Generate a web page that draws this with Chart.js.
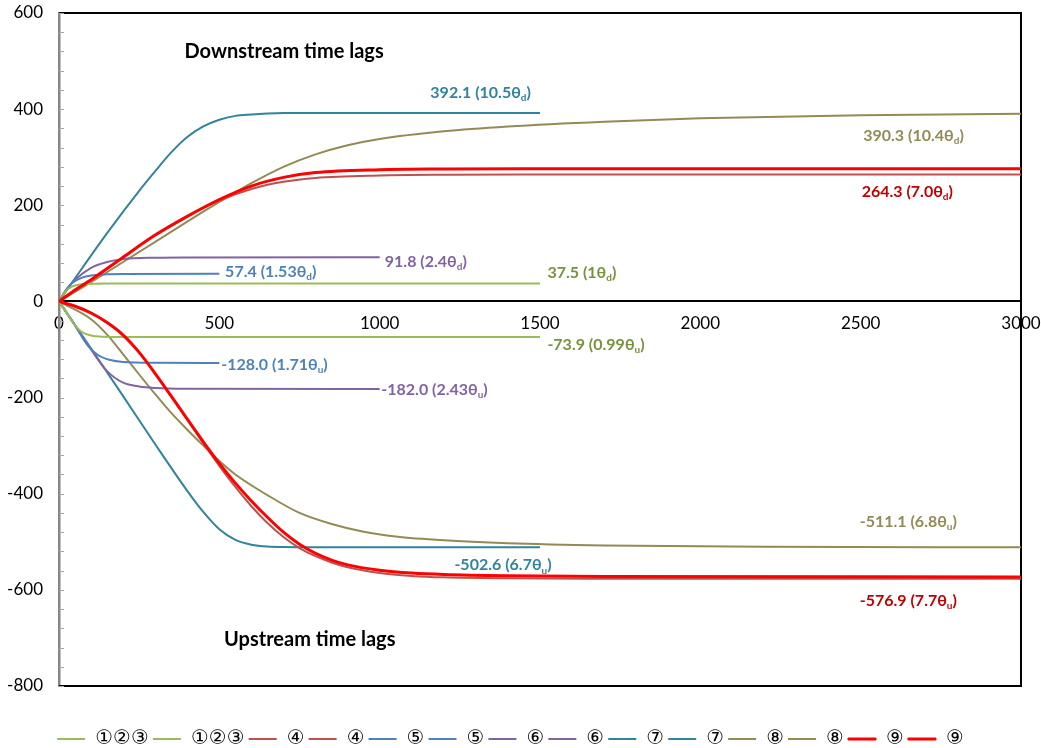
<!DOCTYPE html>
<html>
<head>
<meta charset="utf-8">
<script src="https://cdn.jsdelivr.net/npm/chart.js@4.4.0/dist/chart.umd.min.js"></script>
<style>
	html, body { margin: 0; padding: 0; background: #fff; }
	#box { width: 1041px; height: 748px; position: relative; }
</style>
</head>
<body>
<div id="box"><canvas id="chart-time-lags"></canvas></div>
<script>
// x = elapsed time, y = time lag; one downstream (+) and one upstream (-) curve per case
var xTicks = [0, 500, 1000, 1500, 2000, 2500, 3000];
var yTicks = [-800, -600, -400, -200, 0, 200, 400, 600];

var c123DownX = [0, 20, 40, 70, 100, 150, 1500];
var c123DownY = [0, 20, 31, 35.5, 37, 37.5, 37.5];
var c123UpX = [0, 30, 50, 70, 100, 140, 200, 1500];
var c123UpY = [0, -30, -50, -63, -71, -73.5, -73.9, -73.9];

var c4DownX = [0, 50, 100, 200, 300, 400, 500, 600, 700, 800, 1000, 1200, 1500, 3000];
var c4DownY = [0, 24, 45, 92, 138, 177, 210, 234, 249, 257, 262, 263.5, 264, 264.3];
var c4UpX = [0, 50, 100, 150, 200, 250, 300, 350, 400, 450, 500, 550, 600, 650, 700, 750, 800, 850, 900, 1000, 1100, 1200, 1400, 1700, 3000];
var c4UpY = [0, -10, -24, -44, -70, -106, -150, -197, -245, -295, -342, -386, -426, -461, -490, -513, -530, -543, -553, -565, -571, -574, -576, -576.7, -576.9];

var c5DownX = [0, 20, 40, 70, 100, 150, 200, 500];
var c5DownY = [0, 22, 38, 49, 54, 56.5, 57.3, 57.4];
var c5UpX = [0, 50, 90, 120, 160, 200, 300, 500];
var c5UpY = [0, -50, -92, -111, -122, -126, -127.8, -128];

var c6DownX = [0, 25, 50, 100, 150, 200, 300, 400, 1000];
var c6DownY = [0, 26, 45, 70, 82, 88, 91, 91.6, 91.8];
var c6UpX = [0, 50, 100, 150, 200, 250, 300, 400, 1000];
var c6UpY = [0, -50, -100, -145, -169, -177, -180, -181.5, -182];

var c7DownX = [0, 50, 150, 250, 300, 350, 400, 450, 500, 550, 600, 650, 700, 800, 1500];
var c7DownY = [0, 48, 142, 230, 271, 310, 342, 364, 378, 386, 389, 391, 392, 392.1, 392.1];
var c7UpX = [0, 100, 200, 300, 400, 450, 500, 550, 600, 650, 700, 800, 1500];
var c7UpY = [0, -98, -197, -297, -394, -438, -474, -496, -506, -510, -511, -511.5, -511.5];

var c8DownX = [0, 100, 200, 300, 400, 500, 600, 700, 800, 900, 1000, 1200, 1400, 1700, 2000, 2500, 3000];
var c8DownY = [0, 40, 82, 124, 166, 207, 246, 280, 306, 325, 338, 354, 364, 374, 381, 387.5, 390.3];
var c8UpX = [0, 100, 150, 200, 250, 300, 350, 400, 450, 500, 550, 650, 750, 850, 950, 1050, 1200, 1400, 1700, 2200, 3000];
var c8UpY = [0, -37, -69, -110, -152, -193, -232, -267, -300, -332, -360, -403, -440, -463, -479, -489, -497, -503, -507.5, -510.5, -511.5];

var c9DownX = [0, 50, 100, 200, 300, 400, 500, 600, 700, 800, 1000, 1200, 1500, 3000];
var c9DownY = [0, 24, 45, 92, 138, 177, 212, 240, 258, 268, 274, 275.5, 276, 276];
var c9UpX = [0, 50, 100, 150, 200, 250, 300, 350, 400, 450, 500, 550, 600, 650, 700, 750, 800, 850, 900, 1000, 1100, 1200, 1400, 1700, 3000];
var c9UpY = [0, -10, -24, -44, -70, -106, -150, -197, -245, -292, -337, -378, -415, -449, -480, -505, -524, -538, -548, -559, -565, -568, -570.6, -572, -573];

var notes = [
	{ text: "392.1 (10.5θ", sub: "d", x: 1158, y: 434, color: "#31849B" },
	{ text: "390.3 (10.4θ", sub: "d", x: 2508, y: 345, color: "#948A54" },
	{ text: "264.3 (7.0θ", sub: "d", x: 2503, y: 228, color: "#C00000" },
	{ text: "91.8 (2.4θ", sub: "d", x: 1016, y: 83, color: "#8064A2" },
	{ text: "57.4 (1.53θ", sub: "d", x: 518, y: 62, color: "#4F81BD" },
	{ text: "37.5 (1θ", sub: "d", x: 1523, y: 60, color: "#77933C" },
	{ text: "-73.9 (0.99θ", sub: "u", x: 1523, y: -90, color: "#77933C" },
	{ text: "-128.0 (1.71θ", sub: "u", x: 506, y: -132, color: "#4F81BD" },
	{ text: "-182.0 (2.43θ", sub: "u", x: 1005, y: -184, color: "#8064A2" },
	{ text: "-502.6 (6.7θ", sub: "u", x: 1233, y: -549, color: "#31849B" },
	{ text: "-511.1 (6.8θ", sub: "u", x: 2497, y: -458, color: "#948A54" },
	{ text: "-576.9 (7.7θ", sub: "u", x: 2497, y: -623, color: "#C00000" }
];

var titles = [
	{ text: "Downstream time lags", x: 702, y: 519 },
	{ text: "Upstream time lags", x: 782, y: -704 }
];

function Points(xs, ys)
{
	return xs.map(function(x, i) { return { x: x, y: ys[i] }; });
}

function Curve(label, xs, ys, color, width, order)
{
	return {
		label: label,
		data: Points(xs, ys),
		borderColor: color,
		backgroundColor: color,
		borderWidth: width,
		pointRadius: 0,
		fill: false,
		cubicInterpolationMode: "monotone",
		order: order || 0
	};
}

var green = "#9BBB59", brick = "#C0504D", blue = "#4F81BD", purple = "#8064A2";
var teal = "#31849B", olive = "#948A54", red = "#FF0000";

var datasets = [
	Curve("①②③", c123DownX, c123DownY, green, 2),
	Curve("①②③", c123UpX, c123UpY, green, 2),
	Curve("④", c4DownX, c4DownY, brick, 2),
	Curve("④", c4UpX, c4UpY, brick, 2),
	Curve("⑤", c5DownX, c5DownY, blue, 2),
	Curve("⑤", c5UpX, c5UpY, blue, 2),
	Curve("⑥", c6DownX, c6DownY, purple, 2),
	Curve("⑥", c6UpX, c6UpY, purple, 2),
	Curve("⑦", c7DownX, c7DownY, teal, 2),
	Curve("⑦", c7UpX, c7UpY, teal, 2),
	Curve("⑧", c8DownX, c8DownY, olive, 2),
	Curve("⑧", c8UpX, c8UpY, olive, 2),
	Curve("⑨", c9DownX, c9DownY, red, 3, -1),
	Curve("⑨", c9UpX, c9UpY, red, 3, -1)
];

// plot frame and small inside ticks on the y axis
var framePlugin = {
	id: "frame",
	beforeDatasetsDraw: function(chart)
	{
		var ctx = chart.ctx, a = chart.chartArea, y = chart.scales.y;
		ctx.save();
		ctx.strokeStyle = "#000";
		ctx.lineWidth = 2;
		ctx.beginPath();
		ctx.moveTo(a.left, a.top);
		ctx.lineTo(a.right, a.top);
		ctx.lineTo(a.right, a.bottom);
		ctx.lineTo(a.left, a.bottom);
		ctx.stroke();

		ctx.strokeStyle = "#A6A6A6";
		ctx.lineWidth = 1;
		for (var v = -800; v <= 600; v += 40)
		{
			var py = Math.round(y.getPixelForValue(v)) + 0.5;
			ctx.beginPath();
			ctx.moveTo(a.left, py);
			ctx.lineTo(a.left + 5, py);
			ctx.stroke();
		}
		ctx.restore();
	}
};

var notesPlugin = {
	id: "notes",
	afterDatasetsDraw: function(chart)
	{
		var ctx = chart.ctx, xs = chart.scales.x, ys = chart.scales.y;
		ctx.save();
		ctx.textBaseline = "middle";
		notes.forEach(function(n)
		{
			var px = xs.getPixelForValue(n.x), py = ys.getPixelForValue(n.y);
			ctx.fillStyle = n.color;
			ctx.textAlign = "left";
			ctx.font = "bold 16px Lato";
			ctx.fillText(n.text, px, py);
			var w = ctx.measureText(n.text).width;
			ctx.font = "bold 10px Lato";
			ctx.fillText(n.sub, px + w, py + 5);
			var w2 = ctx.measureText(n.sub).width;
			ctx.font = "bold 16px Lato";
			ctx.fillText(")", px + w + w2, py);
		});
		ctx.fillStyle = "#000";
		ctx.textAlign = "center";
		ctx.font = "bold 20px Lato";
		titles.forEach(function(t)
		{
			ctx.fillText(t.text, xs.getPixelForValue(t.x), ys.getPixelForValue(t.y));
		});
		ctx.restore();
	}
};

function NoPadding(scale)
{
	scale.paddingTop = 0;
	scale.paddingBottom = 0;
	scale.paddingLeft = 0;
	scale.paddingRight = 0;
}

new Chart("chart-time-lags", {
	type: "line",
	data: { datasets: datasets },
	options: {
		responsive: true,
		maintainAspectRatio: false,
		animation: false,
		layout: { padding: { top: 13, right: 20, left: 0, bottom: -11 } },
		plugins: {
			tooltip: { enabled: false },
			legend: {
				position: "bottom",
				labels: {
					boxWidth: 28,
					boxHeight: 2,
					padding: 4,
					color: "#000",
					font: { size: 20, family: "DejaVu Sans" },
					generateLabels: function(chart)
					{
						return chart.data.datasets.map(function(ds, i)
						{
							return {
								text: ds.label,
								fillStyle: ds.borderColor,
								strokeStyle: ds.borderColor,
								lineWidth: ds.borderWidth > 2 ? 1 : 0,
								hidden: false,
								datasetIndex: i,
								fontColor: "#000"
							};
						});
					}
				}
			}
		},
		scales: {
			x: {
				type: "linear",
				position: { y: 0 },
				min: 0,
				max: 3000,
				afterBuildTicks: function(scale) { scale.ticks = xTicks.map(function(v) { return { value: v }; }); },
				afterFit: function(scale) { NoPadding(scale); scale.height = 0; },
				ticks: {
					padding: 12,
					maxRotation: 0,
					color: "#000",
					font: { size: 17, family: "Lato" },
					callback: function(v) { return String(v); }
				},
				grid: { drawOnChartArea: false, drawTicks: false },
				border: { color: "#000", width: 2 }
			},
			// empty axis that only keeps the gap between plot and legend
			gap: {
				type: "linear",
				position: "bottom",
				display: true,
				ticks: { display: false },
				grid: { display: false },
				border: { display: false },
				afterFit: function(scale) { NoPadding(scale); scale.height = 39; }
			},
			y: {
				min: -800,
				max: 600,
				afterBuildTicks: function(scale) { scale.ticks = yTicks.map(function(v) { return { value: v }; }); },
				afterFit: function(scale) { NoPadding(scale); scale.width = 59; },
				ticks: { padding: 16, color: "#000", font: { size: 17, family: "Lato" } },
				grid: { drawOnChartArea: false, drawTicks: false },
				border: { color: "#868686", width: 2.5 }
			}
		}
	},
	plugins: [framePlugin, notesPlugin]
});
</script>
</body>
</html>
